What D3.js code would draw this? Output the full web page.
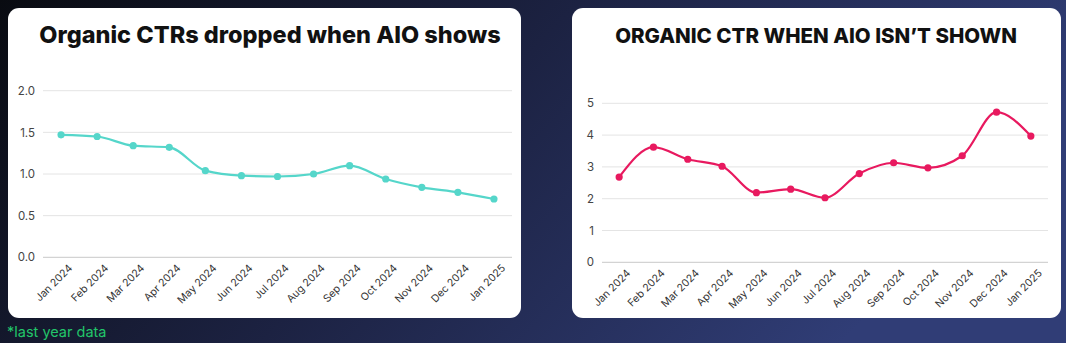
<!DOCTYPE html>
<html>
<head>
<meta charset="utf-8">
<script src="https://cdn.jsdelivr.net/npm/d3@7"></script>
<style>
  html, body { margin: 0; padding: 0; }
  body { width: 1066px; height: 343px; overflow: hidden; }
  svg { display: block; font-family: Inter, "Noto Sans", sans-serif; }
</style>
</head>
<body>
<svg id="chart" width="1066" height="343"></svg>
<script>
// month labels shared by both charts
var months = ["Jan 2024", "Feb 2024", "Mar 2024", "Apr 2024", "May 2024", "Jun 2024",
  "Jul 2024", "Aug 2024", "Sep 2024", "Oct 2024", "Nov 2024", "Dec 2024", "Jan 2025"];

// left: organic CTR when AIO shows
var ctrWithAio = [1.47, 1.45, 1.34, 1.32, 1.04, 0.98, 0.97, 1.0, 1.10, 0.94, 0.84, 0.78, 0.70];
var leftTicks = [0, 0.5, 1.0, 1.5, 2.0];

// right: organic CTR when AIO isn't shown
var ctrWithoutAio = [2.68, 3.62, 3.24, 3.02, 2.19, 2.30, 2.03, 2.79, 3.13, 2.97, 3.35, 4.72, 3.97];
var rightTicks = [0, 1, 2, 3, 4, 5];

var svg = d3.select("#chart");

// background gradient
var defs = svg.append("defs");
var grad = defs.append("linearGradient").attr("id", "bg")
  .attr("x1", "0%").attr("y1", "0%").attr("x2", "100%").attr("y2", "30%");
grad.append("stop").attr("offset", "0%").attr("stop-color", "#090b11");
grad.append("stop").attr("offset", "50%").attr("stop-color", "#1c2242");
grad.append("stop").attr("offset", "100%").attr("stop-color", "#303d76");
svg.append("rect").attr("width", 1066).attr("height", 343).attr("fill", "url(#bg)");

function drawChart(opts) {
  var g = svg.append("g");

  // card
  g.append("rect")
    .attr("x", opts.card[0]).attr("y", 8)
    .attr("width", opts.card[1] - opts.card[0]).attr("height", 310)
    .attr("rx", 11).attr("fill", "#ffffff");

  g.append("text")
    .attr("x", opts.titleX).attr("y", 43)
    .attr("text-anchor", "middle")
    .attr("font-size", opts.titleSize)
    .attr("font-weight", 800)
    .attr("fill", "#111111")
    .text(opts.title);

  var x = d3.scalePoint().domain(months).range(opts.xRange).padding(0.5);
  var y = d3.scaleLinear().domain(opts.yDomain).range(opts.yRange);

  // gridlines
  g.append("g").selectAll("line")
    .data(opts.ticks)
    .join("line")
    .attr("x1", opts.xRange[0]).attr("x2", opts.xRange[1])
    .attr("y1", d => y(d)).attr("y2", d => y(d))
    .attr("stroke", d => d === 0 ? "#c8c8c8" : "#e4e4e4")
    .attr("stroke-width", 1);

  // y axis labels
  var yAxis = d3.axisLeft(y).tickValues(opts.ticks).tickFormat(opts.fmt).tickSize(0).tickPadding(8);
  var ya = g.append("g").attr("transform", "translate(" + opts.xRange[0] + ",0)").call(yAxis);
  ya.select(".domain").remove();
  ya.selectAll("text").attr("font-size", 11.5).attr("fill", "#444").attr("font-family", "Inter, sans-serif");

  // x axis labels
  var xAxis = d3.axisBottom(x).tickSize(0).tickPadding(6);
  var xa = g.append("g").attr("transform", "translate(0," + opts.yRange[0] + ")").call(xAxis);
  xa.select(".domain").remove();
  xa.selectAll("text")
    .attr("font-size", 10.5).attr("fill", "#333").attr("font-family", "Inter, sans-serif")
    .attr("text-anchor", "end")
    .attr("dy", "0.3em")
    .attr("transform", "translate(5,5) rotate(-45)");

  var line = d3.line()
    .x((d, i) => x(months[i]))
    .y(d => y(d))
    .curve(d3.curveMonotoneX);

  g.append("path")
    .datum(opts.values)
    .attr("d", line)
    .attr("fill", "none")
    .attr("stroke", opts.color)
    .attr("stroke-width", 2.2);

  g.append("g").selectAll("circle")
    .data(opts.values)
    .join("circle")
    .attr("cx", (d, i) => x(months[i]))
    .attr("cy", d => y(d))
    .attr("r", 3.6)
    .attr("fill", opts.color);
}

drawChart({
  card: [8, 521],
  title: "Organic CTRs dropped when AIO shows",
  titleX: 270,
  titleSize: 23.5,
  xRange: [43, 512],
  yRange: [257.3, 90.7],
  yDomain: [0, 2],
  ticks: leftTicks,
  fmt: d3.format(".1f"),
  values: ctrWithAio,
  color: "#55d6ca"
});

drawChart({
  card: [572, 1061],
  title: "ORGANIC CTR WHEN AIO ISN\u2019T SHOWN",
  titleX: 816,
  titleSize: 20.5,
  xRange: [602, 1048],
  yRange: [262.3, 103.3],
  yDomain: [0, 5],
  ticks: rightTicks,
  fmt: d3.format("d"),
  values: ctrWithoutAio,
  color: "#e8195f"
});

svg.append("text")
  .attr("x", 7).attr("y", 337)
  .attr("font-size", 14.5)
  .attr("fill", "#22c56a")
  .text("*last year data");
</script>
</body>
</html>
